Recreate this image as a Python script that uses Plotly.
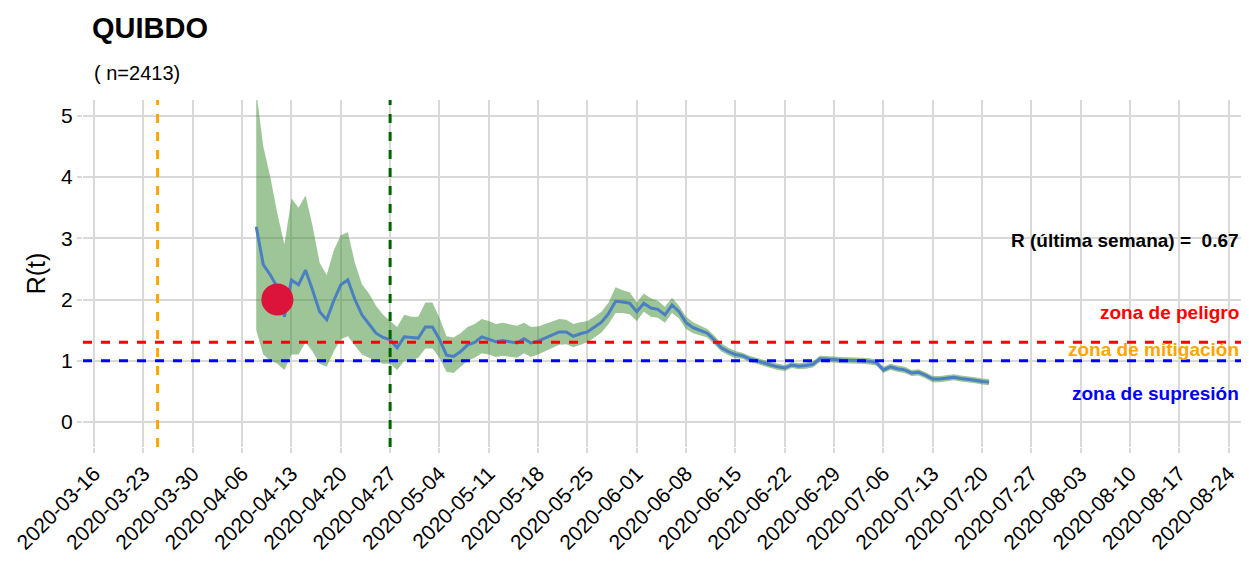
import plotly.graph_objects as go
import pandas as pd

dates = pd.date_range("2020-04-08", "2020-07-21", freq="D")
r_mean = [3.19,2.57,2.40,2.20,1.72,2.32,2.24,2.48,2.15,1.80,1.67,1.98,2.24,2.32,2.00,1.75,1.60,1.45,1.38,1.34,1.21,1.39,1.38,
          1.37,1.55,1.55,1.35,1.09,1.07,1.15,1.26,1.30,1.39,1.35,1.31,1.33,1.31,1.29,1.36,1.29,1.32,1.37,1.42,1.47,1.47,1.40,1.44,1.47,1.55,1.63,1.77,1.97,1.96,1.94,
          1.80,1.94,1.86,1.84,1.75,1.91,1.80,1.62,1.54,1.50,1.45,1.34,1.21,1.15,1.10,1.08,1.03,1.00,0.96,0.93,0.90,0.88,0.93,0.91,0.92,0.94,1.03,1.03,1.02,1.01,
          1.01,1.01,1.00,0.99,0.97,0.85,0.90,0.87,0.85,0.80,0.81,0.76,0.70,0.70,0.72,0.73,0.71,0.70,0.68,0.66,0.65]
r_upper = [5.4,4.5,4.0,3.4,2.9,3.65,3.5,3.7,3.2,2.6,2.4,2.8,3.05,3.1,2.6,2.25,2.1,1.9,1.75,1.65,1.55,1.75,1.72,
           1.72,1.95,1.95,1.7,1.4,1.38,1.45,1.55,1.6,1.68,1.65,1.6,1.62,1.6,1.57,1.62,1.55,1.56,1.6,1.65,1.68,1.67,1.6,1.63,1.65,1.72,1.8,1.95,2.2,2.15,2.12,
           1.95,2.1,2.02,1.98,1.88,2.03,1.9,1.72,1.63,1.58,1.52,1.41,1.28,1.21,1.16,1.13,1.08,1.05,1.01,0.98,0.95,0.93,0.98,0.96,0.97,0.99,1.08,1.08,1.07,1.06,
           1.06,1.06,1.05,1.04,1.02,0.9,0.95,0.92,0.9,0.85,0.86,0.81,0.75,0.75,0.77,0.78,0.76,0.75,0.73,0.71,0.70]
r_lower = [1.5,1.1,1.0,0.95,0.85,1.1,1.1,1.3,1.15,0.95,0.9,1.15,1.35,1.4,1.25,1.1,1.05,1.0,0.95,0.95,0.85,1.0,1.0,
           1.05,1.2,1.2,1.05,0.82,0.8,0.9,1.0,1.05,1.12,1.1,1.06,1.08,1.07,1.05,1.12,1.06,1.1,1.15,1.2,1.26,1.27,1.22,1.26,1.3,1.38,1.46,1.6,1.78,1.78,1.76,
           1.65,1.8,1.72,1.7,1.62,1.78,1.69,1.52,1.45,1.42,1.38,1.27,1.15,1.09,1.04,1.03,0.98,0.95,0.91,0.88,0.85,0.83,0.88,0.86,0.87,0.89,0.98,0.98,0.97,0.96,
           0.96,0.96,0.95,0.94,0.92,0.8,0.85,0.82,0.8,0.75,0.76,0.71,0.65,0.65,0.67,0.68,0.66,0.65,0.63,0.61,0.60]
tick_dates = pd.date_range("2020-03-16", "2020-08-24", freq="7D")
marker_date, marker_r = "2020-04-11", 2.0
line_orange, line_green = "2020-03-25", "2020-04-27"
r_last = 0.67

fig = go.Figure()
fig.add_trace(go.Scatter(x=list(dates), y=r_upper, mode="lines", line=dict(width=0), showlegend=False))
fig.add_trace(go.Scatter(x=list(dates), y=r_lower, mode="lines", line=dict(width=0), fill="tonexty",
                         fillcolor="rgba(60,140,50,0.5)", showlegend=False))
fig.add_trace(go.Scatter(x=list(dates), y=r_mean, mode="lines", line=dict(color="#4a7fc1", width=3), showlegend=False))
fig.add_trace(go.Scatter(x=[marker_date], y=[marker_r], mode="markers", marker=dict(color="#dc143c", size=32), showlegend=False))

fig.add_hline(y=1.3, line=dict(color="red", dash="dash", width=3))
fig.add_hline(y=1.0, line=dict(color="blue", dash="dash", width=3))
fig.add_vline(x=line_orange, line=dict(color="orange", dash="dash", width=3))
fig.add_vline(x=line_green, line=dict(color="darkgreen", dash="dash", width=3))

font = "Liberation Sans, Arial"
anns = [(2.97, f"R (última semana) =  {r_last}", "black"), (1.78, "zona de peligro", "red"),
        (1.18, "zona de mitigación", "orange"), (0.47, "zona de supresión", "blue")]
for yv, t, c in anns:
    fig.add_annotation(x=1.0, xref="paper", xanchor="right", y=yv, text=f"<b>{t}</b>",
                       showarrow=False, font=dict(family=font, size=19, color=c))

W, H = 1233, 555
fig.update_layout(
    width=W, height=H, plot_bgcolor="white", paper_bgcolor="white",
    margin=dict(l=75, r=0, t=92, b=116), font=dict(family=font, size=21, color="black"),
    title=dict(text="<b>QUIBDO</b>", x=84/W, xanchor="left", y=1-20/H, yanchor="middle", font=dict(size=29)),
)
fig.add_annotation(xref="paper", yref="paper", x=(84-75)/(W-75), xanchor="left", y=(439-65)/347, yanchor="middle",
                   text="( n=2413)", showarrow=False, font=dict(size=20))
fig.update_xaxes(range=["2020-03-14 10:00", "2020-08-25 18:00"], tickvals=list(tick_dates), tickformat="%Y-%m-%d",
                 tickangle=-45, showgrid=True, gridcolor="#d9d9d9", gridwidth=2, zeroline=False,
                 ticks="outside", tickcolor="#d9d9d9", ticklen=5, tickwidth=2, tickfont=dict(size=21))
fig.update_yaxes(range=[-0.41, 5.26], dtick=1, showgrid=True, gridcolor="#d9d9d9", gridwidth=2, zeroline=False,
                 ticks="outside", tickcolor="#d9d9d9", ticklen=5, tickwidth=2, title=dict(text="R(t)", standoff=8),
                 tickfont=dict(size=21))
fig.write_html("out.html")
